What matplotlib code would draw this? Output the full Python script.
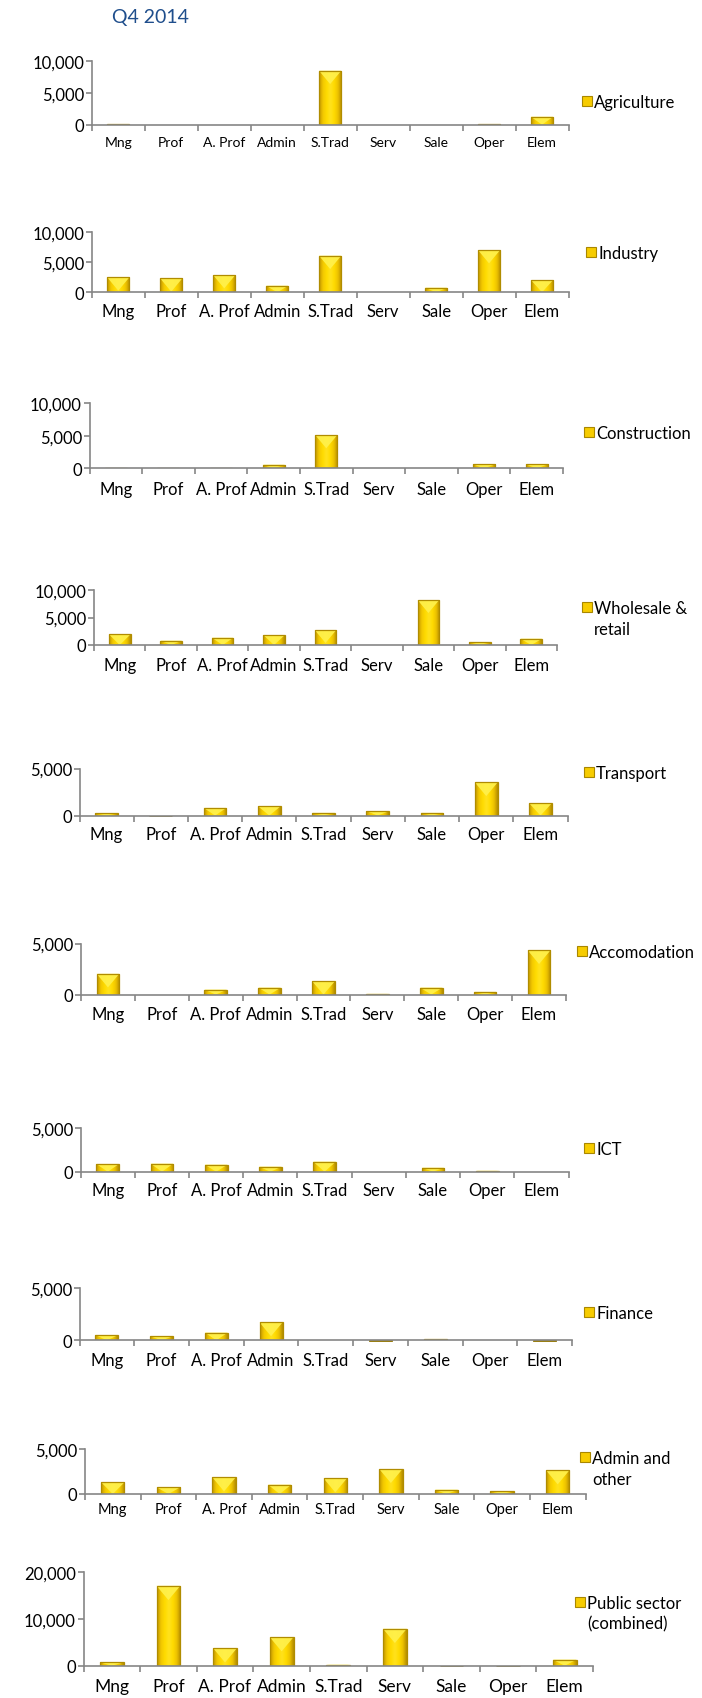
import numpy as np
import matplotlib
matplotlib.use('Agg')
import matplotlib.pyplot as plt
from matplotlib.colors import LinearSegmentedColormap
from matplotlib.patches import Rectangle

plt.rcParams['font.family'] = ['Lato', 'DejaVu Sans']

# Data
categories = ['Mng', 'Prof', 'A. Prof', 'Admin', 'S.Trad', 'Serv', 'Sale', 'Oper', 'Elem']
agriculture = [100, 0, 0, 0, 8480, 0, 0, 100, 1250]
industry = [2500, 2330, 2880, 1100, 6100, 0, 770, 7050, 2050]
construction = [60, 40, 40, 550, 5120, 0, 0, 600, 600]
wholesale = [1940, 790, 1330, 1820, 2730, 0, 8180, 550, 1150]
transport = [250, -60, 810, 990, 280, 460, 280, 3520, 1310]
accomodation = [2030, 0, 480, 680, 1290, 60, 680, 260, 4320]
ict = [890, 920, 810, 580, 1150, 0, 460, 100, 0]
finance = [510, 390, 740, 1710, 0, -60, 100, 0, -60]
admin_other = [1300, 740, 1850, 1040, 1740, 2780, 480, 300, 2630]
public_sector = [730, 17000, 3720, 6080, 200, 7860, -150, -150, 1290]

series = [agriculture, industry, construction, wholesale, transport,
          accomodation, ict, finance, admin_other, public_sector]
series_names = ['Agriculture', 'Industry', 'Construction', 'Wholesale &\nretail',
                'Transport', 'Accomodation', 'ICT', 'Finance', 'Admin and\nother',
                'Public sector\n(combined)']
y_ticks = [[0, 5000, 10000]] * 4 + [[0, 5000]] * 5 + [[0, 10000, 20000]]

# Layout in pixels: (x0, x1, y_top, y_zero, label_size, label_pad, legend_x, legend_y)
W, H = 702, 1699
layout = [
    (91.8, 568.5, 62.0, 125.7, 10, 8.0, 582, 102),
    (91.8, 568.5, 233.3, 293.3, 12, 8.0, 586, 253),
    (89.5, 563.0, 404.3, 469.3, 12, 9.5, 584, 433),
    (94.0, 557.0, 591.0, 646.0, 12, 8.5, 582, 608),
    (79.5, 567.6, 769.5, 816.5, 12, 7.5, 584, 773),
    (81.0, 566.0, 944.5, 995.5, 12, 8.5, 577, 952),
    (80.6, 568.5, 1129.0, 1172.7, 12, 7.5, 584, 1149),
    (79.5, 572.0, 1289.0, 1341.3, 12, 8.5, 584, 1313),
    (85.0, 585.5, 1450.0, 1495.0, 10.5, 6.0, 580, 1458),
    (83.5, 593.0, 1572.7, 1666.7, 12.5, 8.5, 575, 1603),
]

gold = LinearSegmentedColormap.from_list(
    'gold', ['#C29600', '#F2C800', '#FFDB00', '#FFE21F', '#FFDB00', '#EDC200', '#B38C00'])
grad = np.linspace(0, 1, 64).reshape(1, -1)
axis_grey = '#868686'
bar_w = 0.42

fig = plt.figure(figsize=(W / 100, H / 100), dpi=100)
fig.patch.set_facecolor('white')

fig.text(112 / W, 1 - 18 / H, 'Q4 2014', color='#1F4E8C', fontsize=14, va='center', ha='left')

for vals, name, ticks, (x0, x1, yt, yz, lsize, lpad, lx, ly) in zip(series, series_names, y_ticks, layout):
    ax = fig.add_axes([x0 / W, 1 - yz / H, (x1 - x0) / W, (yz - yt) / H])
    ymax = ticks[-1]
    ax_w_px = x1 - x0
    ax_h_px = yz - yt
    data_per_px = ymax / ax_h_px

    for i, v in enumerate(vals):
        if v == 0:
            continue
        if v < 0:
            ax.bar(i, v, bar_w, color='#B89400', edgecolor='#8C7000', lw=0.6,
                   clip_on=False, zorder=3)
            continue
        rect = ax.bar(i, v, bar_w, color='#FFD500', lw=0, zorder=3)[0]
        im = ax.imshow(grad, extent=(i - bar_w / 2, i + bar_w / 2, 0, v), aspect='auto',
                       cmap=gold, zorder=3.2, interpolation='bicubic')
        im.set_clip_path(rect)
        # beveled top: light chevron
        tri_h = min(v, 0.6 * bar_w * ax_w_px / 9 * data_per_px)
        ax.fill([i - bar_w / 2, i + bar_w / 2, i], [v, v, v - tri_h],
                color='#FFF04A', alpha=0.95, lw=0, zorder=3.4)
        ax.bar(i, v, bar_w, fill=False, edgecolor='#B08C00', lw=0.9, zorder=3.6)

    ax.set_xlim(-0.5, len(categories) - 0.5)
    ax.set_ylim(0, ymax)

    for side in ['top', 'right']:
        ax.spines[side].set_visible(False)
    for side in ['left', 'bottom']:
        ax.spines[side].set_color(axis_grey)
        ax.spines[side].set_linewidth(1.2)
        ax.spines[side].set_zorder(5)

    ax.set_xticks(np.arange(len(categories) + 1) - 0.5)
    ax.set_xticklabels([])
    ax.set_xticks(np.arange(len(categories)), minor=True)
    ax.set_xticklabels(categories, minor=True, fontsize=lsize)
    ax.tick_params(axis='x', which='major', direction='out', length=4, width=1.2, color=axis_grey)
    ax.tick_params(axis='x', which='minor', length=0, pad=lpad)

    ax.set_yticks(ticks)
    ax.set_yticklabels([f'{t:,}' for t in ticks], fontsize=12)
    ax.tick_params(axis='y', direction='out', length=4, width=1.2, color=axis_grey, pad=1.5)

    # legend entry
    fig.patches.append(Rectangle((lx / W, 1 - (ly + 5) / H), 10 / W, 10 / H,
                                 transform=fig.transFigure, facecolor='#F7CC00',
                                 edgecolor='#A98700', lw=0.8))
    fig.text((lx + 12) / W, 1 - (ly - 7) / H, name, fontsize=12, va='top', ha='left',
             linespacing=1.35)

fig.savefig('out.png', dpi=100, facecolor='white')
